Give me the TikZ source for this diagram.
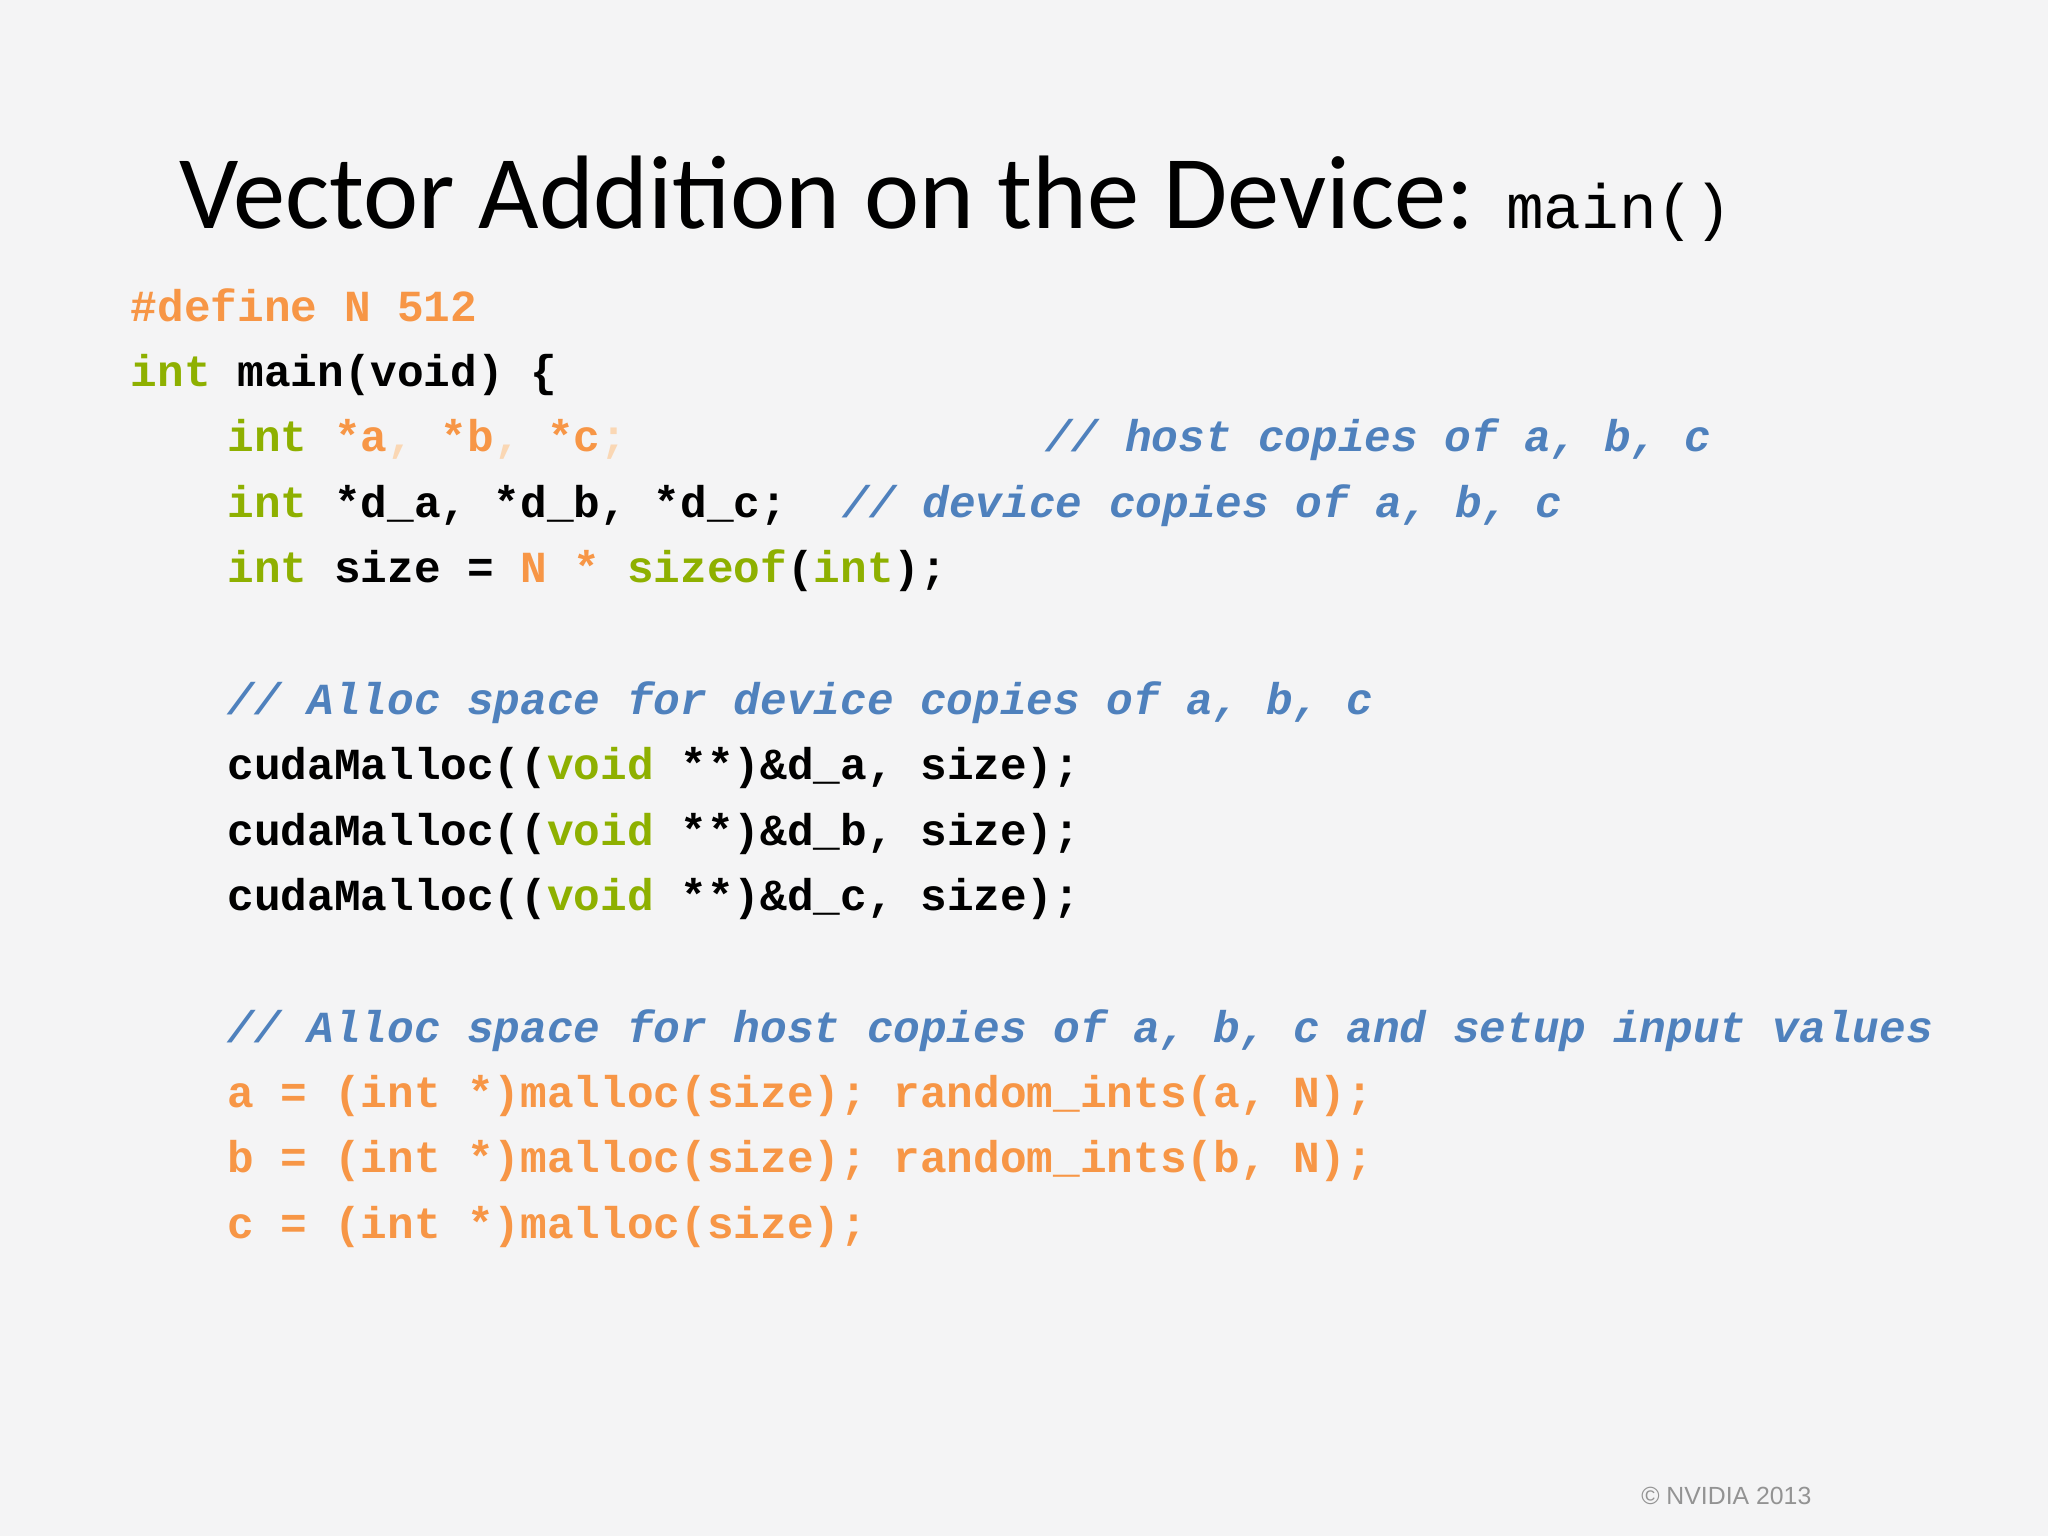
\documentclass[tikz,border=0pt]{standalone}
\usepackage{fontspec}
\setmainfont{Carlito}
\setmonofont{Liberation Mono}
\newfontfamily\crfont{Liberation Sans}
\definecolor{bg}{RGB}{244,244,245}
\definecolor{ora}{RGB}{247,150,70}
\definecolor{grn}{RGB}{142,176,0}
\definecolor{blu}{RGB}{79,129,189}
\definecolor{fad}{RGB}{250,215,180}
\newcommand{\xO}[1]{\textcolor{ora}{#1}}
\newcommand{\xG}[1]{\textcolor{grn}{#1}}
\newcommand{\xB}[1]{\textcolor{blu}{\itshape #1}}
\begin{document}
\begin{tikzpicture}[x=1pt,y=-1pt,
  code/.style={anchor=base west,inner sep=0,font=\fontsize{34}{40}\ttfamily\bfseries}]
\fill[bg] (0,0) rectangle (1568,1176);
\useasboundingbox (0,0) rectangle (1568,1176);
\node[anchor=base west,inner sep=0,font=\fontsize{80}{90}\selectfont] (title) at (137,175)
  {Vector Addition on the Device: {\ttfamily\fontsize{48}{50}\selectfont main()}};
\node[code] (l1) at (100,246) {\xO{\#define N 512}};
\node[code] (l2) at (100,296) {\xG{int} main(void) \{};
\node[code] (l3) at (174,346) {\xG{int} \xO{*a}\textcolor{fad}{,} \xO{*b}\textcolor{fad}{,} \xO{*c}\textcolor{fad}{;}};
\node[code] (l3c) at (800,346) {\xB{// host copies of a, b, c}};
\node[code] (l4) at (174,396) {\xG{int} *d\_a, *d\_b, *d\_c;};
\node[code] (l4c) at (645,396) {\xB{// device copies of a, b, c}};
\node[code] (l5) at (174,446) {\xG{int} size = \xO{N *} \xG{sizeof}(\xG{int});};
\node[code] (l6) at (174,547) {\xB{// Alloc space for device copies of a, b, c}};
\node[code] (l7) at (174,597) {cudaMalloc((\xG{void} **)\&d\_a, size);};
\node[code] (l8) at (174,647) {cudaMalloc((\xG{void} **)\&d\_b, size);};
\node[code] (l9) at (174,697) {cudaMalloc((\xG{void} **)\&d\_c, size);};
\node[code] (l10) at (174,798) {\xB{// Alloc space for host copies of a, b, c and setup input values}};
\node[code] (l11) at (174,848) {\xO{a = (int *)malloc(size); random\_ints(a, N);}};
\node[code] (l12) at (174,898) {\xO{b = (int *)malloc(size); random\_ints(b, N);}};
\node[code] (l13) at (174,948) {\xO{c = (int *)malloc(size);}};
\node[anchor=base east,inner sep=0,font=\crfont\fontsize{19}{22}\selectfont,text=gray!85] (cp) at (1387,1152) {© NVIDIA 2013};
\end{tikzpicture}
\end{document}
